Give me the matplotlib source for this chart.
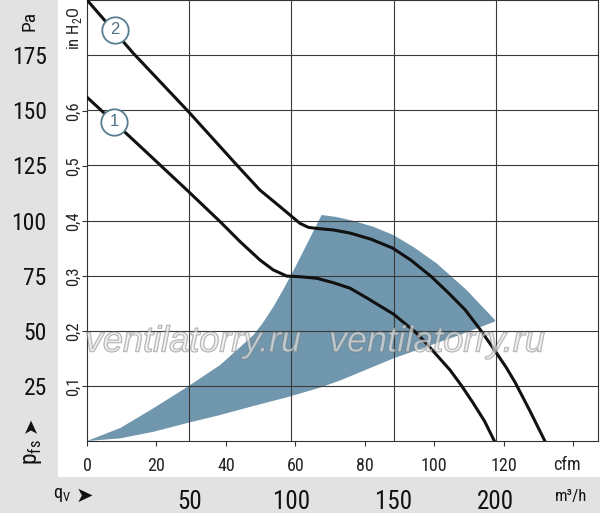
import matplotlib
matplotlib.use('Agg')
import matplotlib.pyplot as plt
import matplotlib.patheffects as pe
from matplotlib import font_manager
from matplotlib.patches import Rectangle


def pick_font(names):
    for n in names:
        try:
            font_manager.findfont(font_manager.FontProperties(family=n), fallback_to_default=False)
            return n
        except ValueError:
            pass
    return 'DejaVu Sans'


narrow = pick_font(['Liberation Sans Narrow', 'Roboto Condensed', 'Liberation Sans'])
plain = pick_font(['Liberation Sans', 'DejaVu Sans'])

# fan curves (q in m3/h, p in Pa)
q1 = [0, 22.7, 49.7, 65.1, 74.9, 84.6, 91.1, 97.7, 104.2, 112.4, 120.5, 128.7, 137.6,
      150, 160.5, 165, 177.6, 183.3, 189, 194.5, 199.3]
p1 = [155.9, 136.5, 113.1, 99.5, 90.4, 82.1, 77.6, 74.8, 74.5, 73.8, 71.8, 69.3, 64.5,
      57.5, 49.5, 45.3, 32.2, 25, 17.1, 9, 0]
q2 = [0, 22.7, 49.7, 74.8, 84.6, 94.4, 99.3, 104.2, 108.3, 112.4, 120.5, 128.7, 139,
      149.5, 158.5, 168.5, 177, 185, 192.4, 198.8, 205, 209.5, 216.5, 224]
p2 = [200, 175.8, 149.3, 123.6, 113.8, 106.3, 102.5, 98.7, 96.9, 96.4, 95.7, 94.3, 91.5,
      87.5, 82, 74.5, 67, 59.5, 50.5, 42, 33.5, 26.5, 14, 0]

# operating range (shaded area), outline
range_q = [0, 16.3, 32.6, 49.7, 65.2, 81.5, 86, 91.3, 96.5, 102, 108.5, 114.8,
           122, 130, 140, 149.9, 160, 171, 185.7, 192.3, 199.6,
           199.6, 185, 166.2, 150, 124, 114, 97.8, 81.5, 65.2, 49.7, 32.6, 16.3, 0]
range_p = [0, 5.9, 14.9, 24.9, 34.5, 48.1, 53.5, 61, 69.5, 79, 91, 102.5,
           101.6, 99.9, 97.2, 93.4, 87.8, 80.6, 68.5, 62, 54.9,
           54.2, 49, 42.8, 37.5, 27.5, 24.2, 19.8, 15.9, 11.8, 8.3, 4.2, 1.2, 0]

# curve number markers
label_q = [13.4, 13.7]
label_p = [144.8, 186.4]
label_txt = ['1', '2']

m3h_ticks = [50, 100, 150, 200]
pa_ticks = [25, 50, 75, 100, 125, 150, 175]
cfm_ticks = [0, 20, 40, 60, 80, 100, 120, 140]
cfm_labels = ['0', '20', '40', '60', '80', '100', '120', '']
inh2o_ticks = [0.1, 0.2, 0.3, 0.4, 0.5, 0.6]
inh2o_labels = ['0,1', '0,2', '0,3', '0,4', '0,5', '0,6']

W, H = 600, 516
fig = plt.figure(figsize=(6, 5.16), dpi=100)
ax = fig.add_axes([87 / W, 75 / H, 511 / W, 441 / H])

gray = '#e2e2e2'
fig.add_artist(Rectangle((0, 39 / H), 58 / W, 1 - 39 / H, transform=fig.transFigure,
                         facecolor=gray, edgecolor='none', zorder=-5))
fig.add_artist(Rectangle((0, 3 / H), 1, 36 / H, transform=fig.transFigure,
                         facecolor=gray, edgecolor='none', zorder=-5))

ax.fill(range_q, range_p, color='#7097ad', lw=0, zorder=1)
ax.plot(q1, p1, color='#111111', lw=2.2, zorder=3, solid_joinstyle='round')
ax.plot(q2, p2, color='#111111', lw=2.2, zorder=3, solid_joinstyle='round')
ax.plot(label_q, label_p, 'o', ms=19, mfc='white', mec='#587d91', mew=1.3, zorder=4)
for q, p, t in zip(label_q, label_p, label_txt):
    ax.text(q, p, t, ha='center', va='center', fontsize=12, color='#4d7085',
            family=plain, zorder=5)

ax.set_xlim(0, 250)
ax.set_ylim(0, 200)
ax.set_axisbelow(False)
ax.grid(True, color='#3a3a3a', lw=0.8, zorder=2)

# m3/h labels sit in the bottom band, Pa labels in the left band
ax.set_xticks(m3h_ticks)
ax.set_xticklabels([str(v) for v in m3h_ticks], fontsize=18, family=narrow, color='#111111')
ax.tick_params(axis='x', length=0, pad=35)
ax.set_yticks(pa_ticks)
ax.set_yticklabels([str(v) for v in pa_ticks], fontsize=17, family=narrow, color='#111111')
ax.tick_params(axis='y', length=0, pad=29)
for s in ax.spines.values():
    s.set_color('#333333')
    s.set_linewidth(0.8)

cfm = 1.699
secx = ax.secondary_xaxis('bottom', functions=(lambda x: x / cfm, lambda x: x * cfm))
secx.set_xticks(cfm_ticks)
secx.set_xticklabels(cfm_labels, fontsize=13, family=narrow, color='#222222')
secx.tick_params(length=3.5, width=0.8, color='#333333', pad=8)
secx.spines['bottom'].set_visible(False)

inh2o = 249.09
secy = ax.secondary_yaxis('left', functions=(lambda p: p / inh2o, lambda h: h * inh2o))
secy.set_yticks(inh2o_ticks)
secy.set_yticklabels(inh2o_labels, fontsize=12, family=narrow, color='#222222',
                     rotation=90, va='center')
secy.tick_params(length=3.5, width=0.8, color='#333333', pad=1)
secy.spines['left'].set_visible(False)

# axis titles
fig.text(30 / W, 1 - 21 / H, 'Pa', rotation=90, ha='center', va='center',
         fontsize=14, family=narrow, color='#111111')
fig.text(75 / W, 1 - 28 / H, r'in H$_\mathregular{2}$O', rotation=90, ha='center', va='center',
         fontsize=12, family=narrow, color='#222222')
fig.text(33 / W, 1 - 452 / H, r'p$_\mathregular{fs}$', rotation=90, ha='center', va='center',
         fontsize=17, family=narrow, color='#111111')
fig.text(31 / W, 1 - 425 / H, '\u27a4', rotation=90, ha='center', va='center',
         fontsize=14, family='DejaVu Sans', color='#111111')
fig.text(567 / W, 1 - 465 / H, 'cfm', ha='center', va='center',
         fontsize=13, family=narrow, color='#222222')
fig.text(571 / W, 1 - 497 / H, 'm\u00b3/h', ha='center', va='center',
         fontsize=12, family=narrow, color='#111111')
fig.text(62 / W, 1 - 495 / H, r'q$_\mathregular{V}$', ha='center', va='center',
         fontsize=13, family=narrow, color='#111111')
fig.text(84 / W, 1 - 496 / H, '\u27a4', ha='center', va='center',
         fontsize=15, family='DejaVu Sans', color='#111111')

# watermark
for xc in (193, 437):
    fig.text(xc / W, 1 - 342 / H, 'ventilatorry.ru', ha='center', va='center',
             fontsize=26, style='italic', family=plain, color=(0.92, 0.92, 0.92, 0.4),
             path_effects=[pe.withStroke(linewidth=1.0, foreground=(0.45, 0.45, 0.45, 0.55))],
             zorder=10)

fig.savefig('out.png', dpi=100)
